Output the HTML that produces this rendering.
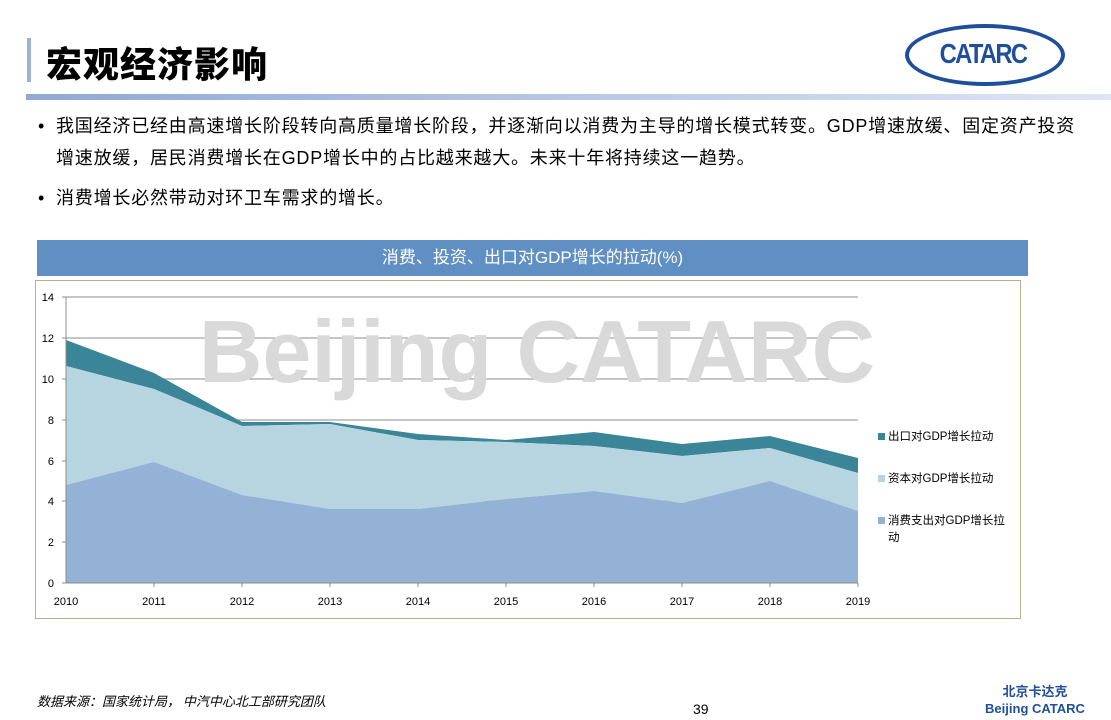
<!DOCTYPE html>
<html><head><meta charset="utf-8"><style>
body{margin:0;width:1111px;height:720px;background:#fff;position:relative;overflow:hidden;font-family:"Liberation Sans","Noto Sans CJK SC",sans-serif;}
.a{position:absolute;}
</style></head><body>
<div class="a" style="left:27px;top:38px;width:4px;height:44px;background:#9db3d6"></div>
<div class="a" style="left:46px;top:36px;font-size:36px;font-weight:900;color:#000;font-family:'Noto Sans CJK SC',sans-serif;letter-spacing:1px">宏观经济影响</div>
<div class="a" style="left:26px;top:94px;width:1085px;height:6px;background:linear-gradient(90deg,#8fa9d4,#dde6f3)"></div>
<div class="a" style="left:905px;top:24px;width:152px;height:54px;border:4px solid #1f4f9a;border-radius:50%"></div>
<div class="a" style="left:918px;top:38px;width:130px;text-align:center;font-size:28px;font-weight:bold;color:#1f4f9a;letter-spacing:-2px;transform:scaleX(0.85)">CATARC</div>
<div class="a" style="left:38px;top:110px;font-size:18px;line-height:32px;color:#000;width:1070px;letter-spacing:0.8px">
<div style="position:relative;padding-left:18px">
<span style="position:absolute;left:0">•</span>我国经济已经由高速增长阶段转向高质量增长阶段，并逐渐向以消费为主导的增长模式转变。GDP增速放缓、固定资产投资<br>增速放缓，居民消费增长在GDP增长中的占比越来越大。未来十年将持续这一趋势。</div>
<div style="position:relative;padding-left:18px;margin-top:8px"><span style="position:absolute;left:0">•</span>消费增长必然带动对环卫车需求的增长。</div>
</div>
<div class="a" style="left:37px;top:240px;width:991px;height:36px;background:#5f8fc3;color:#fff;font-size:17px;text-align:center;line-height:36px">消费、投资、出口对GDP增长的拉动(%)</div>
<div class="a" style="left:35px;top:280px;width:986px;height:339px;border:1px solid #b8b08e;box-sizing:border-box"></div>
<svg class="a" style="left:0;top:0" width="1111" height="720">
<g stroke="#8c8c8c" stroke-width="1">
<line x1="66" y1="297" x2="858" y2="297"/><line x1="66" y1="338" x2="858" y2="338"/>
<line x1="66" y1="379" x2="858" y2="379"/><line x1="66" y1="420" x2="858" y2="420"/>
<line x1="66" y1="461" x2="858" y2="461"/><line x1="66" y1="501" x2="858" y2="501"/>
<line x1="66" y1="542" x2="858" y2="542"/>
</g>
<text x="537" y="382" font-family="Liberation Sans" font-weight="bold" font-size="88" fill="#d9d9d9" text-anchor="middle">Beijing CATARC</text>
<polygon fill="#3a8597" points="66,340 154,373 242,422 330,422 418,434 506,440 594,432 682,444 770,436 858,458 858,473 770,448 682,456 594,446 506,442 418,440 330,424 242,426 154,389 66,366"/>
<polygon fill="#b7d5e0" points="66,366 154,389 242,426 330,424 418,440 506,442 594,446 682,456 770,448 858,473 858,511 770,481 682,503 594,491 506,499 418,509 330,509 242,495 154,462 66,485"/>
<polygon fill="#94b1d6" points="66,485 154,462 242,495 330,509 418,509 506,499 594,491 682,503 770,481 858,511 858,583 66,583"/>
<g stroke="#8c8c8c"><line x1="66" y1="297" x2="66" y2="583"/><line x1="66" y1="583" x2="858" y2="583"/>
<line x1="62" y1="297" x2="66" y2="297"/><line x1="62" y1="338" x2="66" y2="338"/><line x1="62" y1="379" x2="66" y2="379"/><line x1="62" y1="420" x2="66" y2="420"/><line x1="62" y1="461" x2="66" y2="461"/><line x1="62" y1="501" x2="66" y2="501"/><line x1="62" y1="542" x2="66" y2="542"/><line x1="62" y1="583" x2="66" y2="583"/>
<line x1="154" y1="583" x2="154" y2="587"/><line x1="242" y1="583" x2="242" y2="587"/><line x1="330" y1="583" x2="330" y2="587"/><line x1="418" y1="583" x2="418" y2="587"/><line x1="506" y1="583" x2="506" y2="587"/><line x1="594" y1="583" x2="594" y2="587"/><line x1="682" y1="583" x2="682" y2="587"/><line x1="770" y1="583" x2="770" y2="587"/><line x1="858" y1="583" x2="858" y2="587"/></g>
<g font-family="Liberation Sans" font-size="11" fill="#000" text-anchor="end">
<text x="54" y="301">14</text><text x="54" y="342">12</text><text x="54" y="383">10</text><text x="54" y="424">8</text><text x="54" y="465">6</text><text x="54" y="505">4</text><text x="54" y="546">2</text><text x="54" y="587">0</text></g>
<g font-family="Liberation Sans" font-size="11" fill="#000" text-anchor="middle">
<text x="66" y="605">2010</text><text x="154" y="605">2011</text><text x="242" y="605">2012</text><text x="330" y="605">2013</text><text x="418" y="605">2014</text><text x="506" y="605">2015</text><text x="594" y="605">2016</text><text x="682" y="605">2017</text><text x="770" y="605">2018</text><text x="858" y="605">2019</text></g>
<g font-family="Liberation Sans,Noto Sans CJK SC,sans-serif" font-size="11.5" fill="#000">
<rect x="878" y="433" width="7" height="7" fill="#3a8597"/><text x="888" y="440">出口对GDP增长拉动</text>
<rect x="878" y="475" width="7" height="7" fill="#b7d5e0"/><text x="888" y="482">资本对GDP增长拉动</text>
<rect x="878" y="517" width="7" height="7" fill="#94b1d6"/><text x="888" y="524">消费支出对GDP增长拉</text><text x="888" y="541">动</text>
</g>
</svg>
<div class="a" style="left:37px;top:691px;font-size:13px;font-style:italic;color:#000;font-family:'Noto Sans CJK SC',sans-serif">数据来源：国家统计局， 中汽中心北工部研究团队</div>
<div class="a" style="left:693px;top:701px;font-size:14px;color:#000">39</div>
<div class="a" style="left:985px;top:683px;width:100px;text-align:center;font-size:13px;font-weight:bold;color:#1f4f9a;line-height:17px;font-family:'Liberation Sans','Noto Sans CJK SC',sans-serif">北京卡达克<br>Beijing CATARC</div>
</body></html>
